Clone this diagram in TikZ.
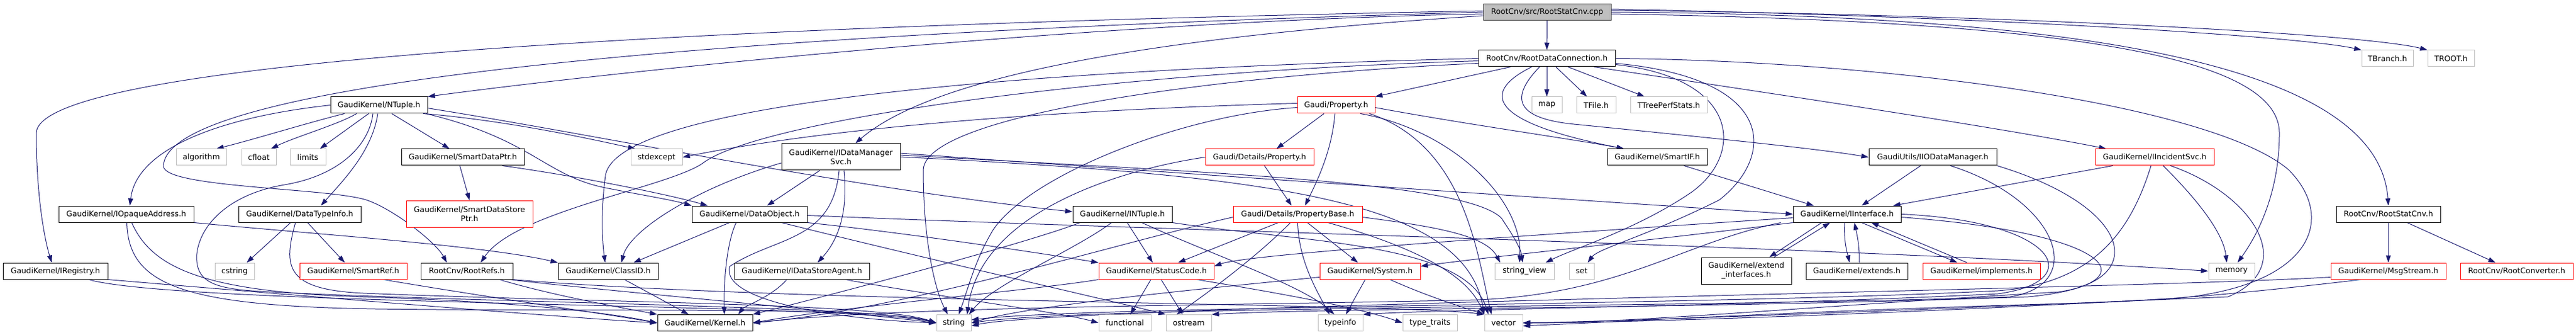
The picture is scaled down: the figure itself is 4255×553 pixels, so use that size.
\documentclass[tikz,border=0pt]{standalone}
\usepackage{fontspec}
\setmainfont{DejaVu Sans}
\usetikzlibrary{arrows.meta}
\definecolor{edgec}{HTML}{191970}
\definecolor{greyb}{HTML}{BFBFBF}
\definecolor{redb}{HTML}{FF0000}
\definecolor{rootf}{HTML}{BFBFBF}
\definecolor{rootb}{HTML}{404040}
\pgfdeclarelayer{bg}
\pgfsetlayers{bg,main}
\begin{document}
\begin{tikzpicture}[x=1pt,y=-1pt,
  font=\fontsize{12.7}{15}\selectfont,
  nb/.style={draw=black, line width=1pt, minimum height=27pt, inner sep=0pt, fill=white, text=black},
  ng/.style={nb, draw=greyb},
  nr/.style={nb, draw=redb},
  nroot/.style={nb, fill=rootf, draw=rootb},
  two/.style={minimum height=44pt, align=center},
  e/.style={draw=edgec, line width=1pt, -{Triangle[length=12pt,width=8pt]}}]
\useasboundingbox (0,0) rectangle (4255,553);
% row 0
\node[nroot, minimum width=211pt] (root) at (2555.5,20) {RootCnv/src/RootStatCnv.cpp};
% row 1
\node[nb, minimum width=226pt] (rdc) at (2555,96.5) {RootCnv/RootDataConnection.h};
\node[ng, minimum width=85pt] (tbranch) at (3943.5,96.5) {TBranch.h};
\node[ng, minimum width=77pt] (troot) at (4048.5,96.5) {TROOT.h};
% row 2
\node[nb, minimum width=160pt] (ntuple) at (626,173.5) {GaudiKernel/NTuple.h};
\node[nr, minimum width=128pt] (prop) at (2207,173.5) {Gaudi/Property.h};
\node[ng, minimum width=50pt] (nmap) at (2555,173.5) {map};
\node[ng, minimum width=65pt] (tfile) at (2636.5,173.5) {TFile.h};
\node[ng, minimum width=127pt] (ttps) at (2756.5,173.5) {TTreePerfStats.h};
% row 3
\node[ng, minimum width=83pt] (algorithm) at (332.5,259.5) {algorithm};
\node[ng, minimum width=57pt] (cfloat) at (427.5,259.5) {cfloat};
\node[ng, minimum width=59pt] (limits) at (508.5,259.5) {limits};
\node[nb, minimum width=203pt] (sdp) at (764.5,259.5) {GaudiKernel/SmartDataPtr.h};
\node[ng, minimum width=85pt] (stdexcept) at (1084.5,259.5) {stdexcept};
\node[nb, two, minimum width=196pt] (idms) at (1389,259) {GaudiKernel/IDataManager\\Svc.h};
\node[nr, minimum width=179pt] (dprop) at (2080.5,259.5) {Gaudi/Details/Property.h};
\node[nb, minimum width=165pt] (smartif) at (2737.5,259.5) {GaudiKernel/SmartIF.h};
\node[nb, minimum width=211pt] (iiodm) at (3192.5,259.5) {GaudiUtils/IIODataManager.h};
\node[nr, minimum width=196pt] (iinc) at (3559,259.5) {GaudiKernel/IIncidentSvc.h};
% row 4
\node[nb, minimum width=223pt] (ioa) at (208.5,353.5) {GaudiKernel/IOpaqueAddress.h};
\node[nb, minimum width=202pt] (dti) at (495,353.5) {GaudiKernel/DataTypeInfo.h};
\node[nr, two, minimum width=209pt] (sdsp) at (775.5,353) {GaudiKernel/SmartDataStore\\Ptr.h};
\node[nb, minimum width=190pt] (dobj) at (1238,353.5) {GaudiKernel/DataObject.h};
\node[nb, minimum width=164pt] (intuple) at (1854,353.5) {GaudiKernel/INTuple.h};
\node[nr, minimum width=213pt] (pbase) at (2143.5,353.5) {Gaudi/Details/PropertyBase.h};
\node[nb, minimum width=178pt] (ii) at (3051,353.5) {GaudiKernel/IInterface.h};
\node[nb, minimum width=172pt] (rsch) at (3945,353.5) {RootCnv/RootStatCnv.h};
% row 5
\node[nb, minimum width=173pt] (ireg) at (91.5,447.5) {GaudiKernel/IRegistry.h};
\node[ng, minimum width=65pt] (cstring) at (387.5,447.5) {cstring};
\node[nr, minimum width=177pt] (sref) at (583.5,447.5) {GaudiKernel/SmartRef.h};
\node[nb, minimum width=152pt] (rrefs) at (771,447.5) {RootCnv/RootRefs.h};
\node[nb, minimum width=165pt] (classid) at (1004.5,447.5) {GaudiKernel/ClassID.h};
\node[nb, minimum width=223pt] (idsa) at (1324.5,447.5) {GaudiKernel/IDataStoreAgent.h};
\node[nr, minimum width=190pt] (sc) at (1910,447.5) {GaudiKernel/StatusCode.h};
\node[nr, minimum width=166pt] (sys) at (2263,447.5) {GaudiKernel/System.h};
\node[ng, minimum width=98pt] (strview) at (2518,447.5) {string\_view};
\node[ng, minimum width=41pt] (nset) at (2612.5,447.5) {set};
\node[nb, two, minimum width=149pt] (extif) at (2884.5,447) {GaudiKernel/extend\\\_interfaces.h};
\node[nb, minimum width=168pt] (extends) at (3067,447.5) {GaudiKernel/extends.h};
\node[nr, minimum width=194pt] (impl) at (3273,447.5) {GaudiKernel/implements.h};
\node[ng, minimum width=76pt] (memory) at (3686,447.5) {memory};
\node[nr, minimum width=190pt] (msg) at (3945,447.5) {GaudiKernel/MsgStream.h};
\node[nr, minimum width=186pt] (rconv) at (4157,447.5) {RootCnv/RootConverter.h};
% row 6
\node[nb, minimum width=157pt] (kernel) at (1164.5,533) {GaudiKernel/Kernel.h};
\node[ng, minimum width=57pt] (nstring) at (1575.5,533) {string};
\node[ng, minimum width=86pt] (functional) at (1858,533) {functional};
\node[ng, minimum width=75pt] (ostream) at (1963.5,533) {ostream};
\node[ng, minimum width=74pt] (typeinfo) at (2214,533) {typeinfo};
\node[ng, minimum width=90pt] (typetraits) at (2362,533) {type\_traits};
\node[ng, minimum width=63pt] (vector) at (2483.5,533) {vector};

\begin{pgfonlayer}{bg}
% root
\draw[e] (root) -- (rdc);
\draw[e] ([yshift=5pt]root.east) .. controls (3300,28) and (3800,60) .. (tbranch.north west);
\draw[e] ([yshift=3pt]root.east) .. controls (3300,24) and (3900,55) .. (troot.north west);
\draw[e] (root.east) .. controls (3500,25) and (3930,120) .. (rsch.north);
\draw[e] ([yshift=-3pt]root.east) .. controls (3400,35) and (3765,90) .. (3765,220) .. controls (3765,330) and (3720,400) .. ([xshift=10pt]memory.north);
\draw[e] ([yshift=2pt]root.west) .. controls (1000,45) and (60,110) .. (60,220) .. controls (60,330) and (75,400) .. ([xshift=-6pt]ireg.north);
\draw[e] (root.west) .. controls (1000,60) and (270,150) .. (270,275) .. controls (275,310) and (540,310) .. (605,330) .. controls (650,345) and (720,400) .. ([xshift=-33pt]rrefs.north);
\draw[e] ([yshift=-3pt]root.west) .. controls (1800,35) and (1000,120) .. (ntuple.north east);
\draw[e] ([yshift=-6pt]root.west) .. controls (2000,55) and (1560,110) .. ([xshift=24pt]idms.north);
% RootDataConnection
\draw[e] (rdc) -- (nmap);
\draw[e] ([xshift=15pt]rdc.south) -- ([xshift=-15pt]tfile.north);
\draw[e] ([xshift=35pt]rdc.south) -- ([xshift=-40pt]ttps.north);
\draw[e] ([xshift=-60pt]rdc.south) -- (prop.north east);
\draw[e] ([xshift=-25pt]rdc.south) .. controls (2450,150) and (2450,200) .. ([xshift=-55pt]smartif.north);
\draw[e] ([xshift=-12pt]rdc.south) .. controls (2495,160) and (2500,195) .. (2600,205) .. controls (2800,225) and (3000,245) .. (iiodm.west);
\draw[e] ([xshift=78pt]rdc.south) .. controls (2900,150) and (3300,210) .. ([xshift=-80pt]iinc.north);
\draw[e] ([yshift=-10pt]rdc.east) .. controls (2880,130) and (2880,260) .. (2790,320) .. controls (2700,380) and (2600,410) .. ([xshift=35pt]strview.north);
\draw[e] ([yshift=-8pt]rdc.east) .. controls (2940,130) and (2930,260) .. (2840,330) .. controls (2720,390) and (2640,410) .. ([xshift=10pt]nset.north);
\draw[e] (rdc.east) .. controls (3100,100) and (3650,170) .. (3780,280) .. controls (3860,360) and (3820,470) .. (3600,492) .. controls (3200,515) and (2700,533) .. (vector.east);
\draw[e] (rdc.west) .. controls (1800,112) and (1020,160) .. (1000,290) .. controls (992,350) and (995,400) .. ([xshift=-5pt]classid.north);
\draw[e] ([yshift=-4pt]rdc.west) .. controls (1800,120) and (1250,200) .. (1160,270) .. controls (1100,310) and (850,350) .. ([xshift=23pt]rrefs.north);
\draw[e] ([yshift=-8pt]rdc.west) .. controls (2000,125) and (1530,190) .. (1525,280) .. controls (1525,400) and (1545,480) .. ([xshift=-10pt]nstring.north);
% Gaudi/Property.h
\draw[e] ([yshift=3pt]prop.west) .. controls (1800,180) and (1400,205) .. (stdexcept.east);
\draw[e] ([yshift=-4pt]prop.west) .. controls (1950,190) and (1700,290) .. (1640,380) .. controls (1610,430) and (1598,480) .. ([xshift=8pt]nstring.north);
\draw[e] ([xshift=-20pt]prop.south) -- ([xshift=28pt]dprop.north);
\draw[e] ([xshift=-2pt]prop.south) .. controls (2200,250) and (2175,300) .. ([xshift=12pt]pbase.north);
\draw[e] ([yshift=-4pt]prop.east) .. controls (2420,205) and (2600,230) .. ([xshift=-55pt]smartif.north);
\draw[e] ([xshift=40pt]prop.south) .. controls (2400,215) and (2515,330) .. ([xshift=-8pt]strview.north);
\draw[e] ([xshift=55pt]prop.south) .. controls (2420,240) and (2440,420) .. ([xshift=-20pt]vector.north);
% Details/Property.h
\draw[e] ([xshift=8pt]dprop.south) -- ([xshift=-10pt]pbase.north);
\draw[e] (dprop.west) .. controls (1850,280) and (1620,350) .. ([xshift=22pt]nstring.north);
% PropertyBase.h
\draw[e] ([xshift=-32pt]pbase.south) -- ([xshift=36pt]sc.north);
\draw[e] ([xshift=16pt]pbase.south) -- ([xshift=-20pt]sys.north);
\draw[e] ([xshift=-12pt]pbase.south) .. controls (2080,420) and (2000,480) .. ([xshift=-20pt]ostream.north);
\draw[e] (pbase.south) .. controls (2145,430) and (2175,480) .. ([xshift=-18pt]typeinfo.north);
\draw[e] ([yshift=-5pt]pbase.west) .. controls (1850,400) and (1500,510) .. (kernel.east);
\draw[e] ([yshift=-5pt]pbase.east) .. controls (2380,375) and (2455,390) .. ([xshift=-40pt]strview.north);
\draw[e] ([xshift=50pt]pbase.south) .. controls (2380,420) and (2430,470) .. (vector.north west);
% INTuple.h
\draw[e] ([xshift=8pt]intuple.south) -- ([xshift=-6pt]sc.north);
\draw[e] ([xshift=32pt]intuple.south) .. controls (2000,420) and (2150,470) .. ([xshift=-10pt]typeinfo.north);
\draw[e] ([xshift=-70pt]intuple.south) .. controls (1700,400) and (1400,480) .. (kernel.north east);
\draw[e] ([xshift=-18pt]intuple.south) .. controls (1780,410) and (1640,470) .. ([xshift=25pt]nstring.north);
\draw[e] (intuple.south east) .. controls (2150,400) and (2420,400) .. ([xshift=-25pt]vector.north);
% DataObject.h
\draw[e] ([xshift=-33pt]dobj.south) -- ([xshift=42pt]classid.north);
\draw[e] (dobj.south east) .. controls (1500,385) and (1700,415) .. (sc.north west);
\draw[e] ([yshift=-2pt]dobj.east) .. controls (1900,380) and (3000,405) .. (memory.west);
\draw[e] ([xshift=53pt]dobj.south) .. controls (1500,420) and (1850,500) .. (ostream.north west);
\draw[e] ([xshift=-22pt]dobj.south) .. controls (1200,400) and (1195,470) .. ([xshift=32pt]kernel.north);
% IDataManagerSvc.h
\draw[e] ([xshift=-35pt]idms.south) -- ([xshift=29pt]dobj.north);
\draw[e] ([xshift=5pt]idms.south) .. controls (1400,340) and (1390,390) .. ([xshift=26pt]idsa.north);
\draw[e] ([xshift=-3pt]idms.south) .. controls (1375,400) and (1280,390) .. (1205,440) .. controls (1190,500) and (1400,528) .. (nstring.west);
\draw[e] ([yshift=-10pt]idms.west) .. controls (1150,310) and (1040,380) .. ([xshift=22pt]classid.north);
\draw[e] ([yshift=6pt]idms.east) .. controls (2000,290) and (2600,330) .. (ii.west);
\draw[e] ([yshift=3pt]idms.east) .. controls (2000,285) and (2420,300) .. (2480,360) .. controls (2500,390) and (2512,410) .. ([xshift=-3pt]strview.north);
\draw[e] (idms.east) .. controls (2100,290) and (2420,330) .. (vector.north west);
% IDataStoreAgent.h
\draw[e] ([xshift=-25pt]idsa.south) .. controls (1275,490) and (1230,505) .. ([xshift=55pt]kernel.north);
\draw[e] ([xshift=72pt]idsa.south) .. controls (1550,490) and (1750,515) .. (functional.west);
% ClassID.h
\draw[e] ([xshift=27pt]classid.south) -- ([xshift=-27pt]kernel.north);
% RootRefs.h
\draw[e] ([xshift=54pt]rrefs.south) .. controls (920,490) and (1050,512) .. (kernel.north west);
\draw[e] ([xshift=70pt]rrefs.south) .. controls (1000,480) and (1400,515) .. (nstring.west);
\draw[e] (rrefs.south east) .. controls (1300,500) and (2300,500) .. (vector.north west);
% IRegistry.h
\draw[e] (ireg.south east) .. controls (400,480) and (900,522) .. (kernel.west);
\draw[e] ([xshift=55pt]ireg.south) .. controls (300,505) and (1400,500) .. (nstring.west);
% IOpaqueAddress.h
\draw[e] (ioa.south east) .. controls (500,385) and (800,405) .. (classid.north west);
\draw[e] ([xshift=9pt]ioa.south) .. controls (250,440) and (330,482) .. (600,490) .. controls (850,498) and (1000,515) .. (kernel.west);
\draw[e] ([xshift=1pt]ioa.south) .. controls (212,470) and (300,505) .. (620,510) .. controls (1000,515) and (1450,505) .. (nstring.west);
% DataTypeInfo.h
\draw[e] ([xshift=-15pt]dti.south) -- ([xshift=20pt]cstring.north);
\draw[e] ([xshift=13pt]dti.south) -- ([xshift=-14pt]sref.north);
\draw[e] ([xshift=-7pt]dti.south) .. controls (468,440) and (470,478) .. (600,484) .. controls (1000,500) and (1450,500) .. (nstring.west);
% SmartRef.h
\draw[e] ([xshift=50pt]sref.south) .. controls (800,490) and (1000,518) .. (kernel.west);
% NTuple.h
\draw[e] (ntuple.west) .. controls (350,195) and (225,250) .. ([xshift=6pt]ioa.north);
\draw[e] ([xshift=-57pt]ntuple.south) .. controls (500,205) and (420,230) .. ([xshift=25pt]algorithm.north);
\draw[e] ([xshift=-37pt]ntuple.south) .. controls (560,205) and (490,225) .. ([xshift=20pt]cfloat.north);
\draw[e] ([xshift=-17pt]ntuple.south) -- ([xshift=20pt]limits.north);
\draw[e] ([xshift=-2pt]ntuple.south) .. controls (615,250) and (565,300) .. ([xshift=35pt]dti.north);
\draw[e] ([xshift=-10pt]ntuple.south) .. controls (610,240) and (560,290) .. (470,305) .. controls (380,320) and (330,370) .. (325,420) .. controls (322,470) and (360,478) .. (450,482) .. controls (800,500) and (1450,505) .. (nstring.west);
\draw[e] ([xshift=21pt]ntuple.south) -- ([xshift=-22pt]sdp.north);
\draw[e] ([xshift=73pt]ntuple.south) .. controls (850,200) and (1000,235) .. ([xshift=-35pt]stdexcept.north);
\draw[e] ([yshift=-5pt]ntuple.east) .. controls (1000,225) and (1400,310) .. ([yshift=4pt]intuple.west);
\draw[e] ([xshift=-3pt]ntuple.south east) .. controls (880,230) and (900,290) .. (1000,310) .. controls (1060,322) and (1110,330) .. (dobj.north west);
% SmartDataPtr.h
\draw[e] ([xshift=-5pt]sdp.south) -- (sdsp.north);
\draw[e] ([xshift=65pt]sdp.south) .. controls (950,290) and (1100,320) .. ([xshift=-69pt]dobj.north);
% StatusCode.h
\draw[e] ([xshift=-9pt]sc.south) -- ([xshift=9pt]functional.north);
\draw[e] ([xshift=8pt]sc.south) -- ([xshift=-10pt]ostream.north);
\draw[e] ([xshift=67pt]sc.south) .. controls (2150,490) and (2250,510) .. (typetraits.west);
\draw[e] (sc.south west) .. controls (1700,480) and (1400,505) .. (kernel.east);
% System.h
\draw[e] ([xshift=-8pt]sys.south) -- ([xshift=9pt]typeinfo.north);
\draw[e] ([yshift=4pt]sys.south west) .. controls (1950,480) and (1700,505) .. (nstring.east);
\draw[e] ([xshift=33pt]sys.south) .. controls (2360,490) and (2410,505) .. (vector.north west);
% IInterface.h
\draw[e] ([yshift=-6pt]ii.west) .. controls (2500,390) and (2060,420) .. ([yshift=8pt]sc.east);
\draw[e] (ii.south west) .. controls (2700,400) and (2450,425) .. ([yshift=8pt]sys.east);
\draw[e] ([xshift=-20pt]ii.south west) .. controls (2780,400) and (2680,485) .. (2440,495) .. controls (2000,505) and (1500,505) .. (kernel.east);
\draw[e] ([xshift=-42pt]ii.south) -- ([xshift=38pt]extif.north);
\draw[e] ([xshift=46pt]extif.north) -- ([xshift=-28pt]ii.south);
\draw[e] ([xshift=-4pt]ii.south) .. controls (3045,400) and (3052,420) .. ([xshift=-12pt]extends.north);
\draw[e] ([xshift=4pt]extends.north) .. controls (3072,410) and (3068,390) .. ([xshift=12pt]ii.south);
\draw[e] ([xshift=24pt]ii.south) -- ([xshift=-40pt]impl.north);
\draw[e] ([xshift=-24pt]impl.north) -- ([xshift=40pt]ii.south);
\draw[e] (ii.east) .. controls (3400,365) and (3450,465) .. (3300,485) .. controls (2900,505) and (2400,510) .. (typeinfo.north east);
\draw[e] ([yshift=-5pt]ii.east) .. controls (3500,385) and (3560,470) .. (3350,490) .. controls (2800,510) and (2200,508) .. (ostream.north east);
% IIODataManager.h
\draw[e] ([xshift=-20pt]iiodm.south) -- ([xshift=24pt]ii.north);
\draw[e] ([xshift=29pt]iiodm.south) .. controls (3400,330) and (3450,470) .. (3320,490) .. controls (2800,508) and (1800,505) .. (nstring.east);
\draw[e] (iiodm.south east) .. controls (3520,340) and (3550,460) .. (3400,482) .. controls (3000,505) and (2700,533) .. (vector.east);
% IIncidentSvc.h
\draw[e] ([xshift=-69pt]iinc.south) -- ([xshift=76pt]ii.north);
\draw[e] ([xshift=-6pt]iinc.south) .. controls (3520,380) and (3460,468) .. (3300,480) .. controls (2800,505) and (1800,505) .. ([yshift=5pt]nstring.east);
\draw[e] ([xshift=14pt]iinc.south) .. controls (3620,320) and (3672,380) .. ([xshift=-8pt]memory.north);
\draw[e] ([xshift=26pt]iinc.south) .. controls (3720,320) and (3800,440) .. (3680,490) .. controls (3200,510) and (2700,530) .. (vector.east);
% SmartIF.h
\draw[e] ([xshift=44pt]smartif.south) -- ([xshift=-55pt]ii.north);
% RootStatCnv.h
\draw[e] (rsch) -- (msg);
\draw[e] ([xshift=31pt]rsch.south) -- ([xshift=-35pt]rconv.north);
% MsgStream.h
\draw[e] ([yshift=4pt]msg.south west) .. controls (3500,478) and (1750,505) .. ([yshift=-5pt]nstring.east);
\draw[e] ([xshift=-45pt]msg.south) .. controls (3760,478) and (3600,495) .. (3450,500) .. controls (3000,512) and (2700,530) .. ([yshift=-5pt]vector.east);
\end{pgfonlayer}
\end{tikzpicture}
\end{document}
